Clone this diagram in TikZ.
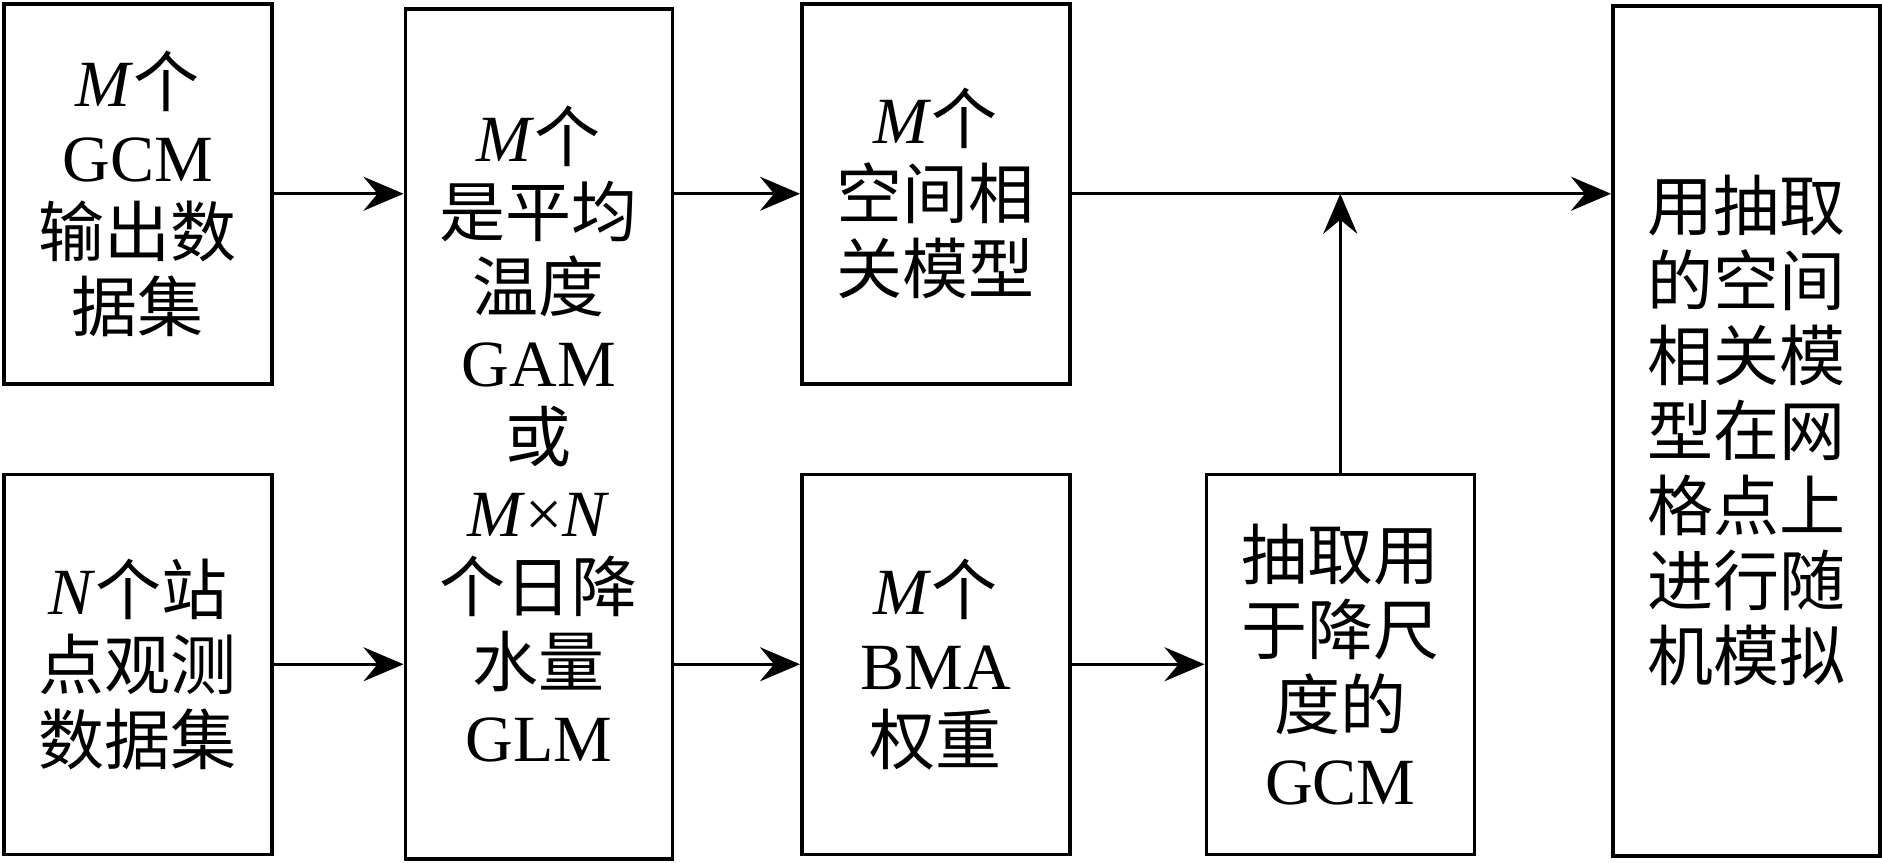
\documentclass[tikz,border=0pt]{standalone}
\usepackage{fontspec}
\setmainfont{Liberation Serif}
\newfontfamily\zhfont{Noto Sans CJK SC}
\usetikzlibrary{arrows.meta,positioning}
\newcommand{\zh}[1]{{\zhfont #1}}

\begin{document}
\begin{tikzpicture}[
  node distance=43.5pt and 65pt,
  box/.style={rectangle, draw=black, text width=120pt, align=center, font=\fontsize{33pt}{37.5pt}\selectfont, minimum width=134pt, minimum height=190pt, inner sep=0pt, line width=1.75pt},
  tallbox/.style={box, minimum width=133.5pt, minimum height=425pt},
  arr/.style={-{Stealth[length=20pt, width=17pt, inset=7pt]}, line width=1.5pt}
]
\useasboundingbox (0,0) rectangle (941pt,-431pt);
\node[box, anchor=north west] (gcm) at (1pt,-1pt) {\textit{M}\zh{个}\\GCM\\\zh{输出数}\\\zh{据集}};
\node[box, below=of gcm] (obs) {\textit{N}\zh{个站}\\\zh{点观测}\\\zh{数据集}};
\node[tallbox, below right=2.5pt and 65pt of gcm.north east] (glm) {\textit{M}\zh{个}\\\zh{是平均}\\\zh{温度}\\GAM\\\zh{或}\\\textit{M}×\textit{N}\\\zh{个日降}\\\zh{水量}\\GLM};
\node[box, below right=-2.5pt and 63pt of glm.north east] (spat) {\textit{M}\zh{个}\\\zh{空间相}\\\zh{关模型}};
\node[box, below=of spat] (bma) {\textit{M}\zh{个}\\BMA\\\zh{权重}};
\node[box, right=66.5pt of bma] (pick) {\zh{抽取用}\\\zh{于降尺}\\\zh{度的}\\GCM};
\coordinate (simtop) at (pick.north east |- spat.north east);
\node[tallbox, below right=1pt and 67.5pt of simtop] (sim) {\zh{用抽取}\\\zh{的空间}\\\zh{相关模}\\\zh{型在网}\\\zh{格点上}\\\zh{进行随}\\\zh{机模拟}};

\draw[arr] (gcm.east) -- (gcm.east -| glm.west);
\draw[arr] (obs.east) -- (obs.east -| glm.west);
\draw[arr] (glm.east |- spat.west) -- (spat.west);
\draw[arr] (glm.east |- bma.west) -- (bma.west);
\draw[arr] (spat.east) -- (spat.east -| sim.west);
\draw[arr] (bma.east) -- (pick.west);
\draw[arr] (pick.north) -- (pick.north |- spat.east);
\end{tikzpicture}
\end{document}
